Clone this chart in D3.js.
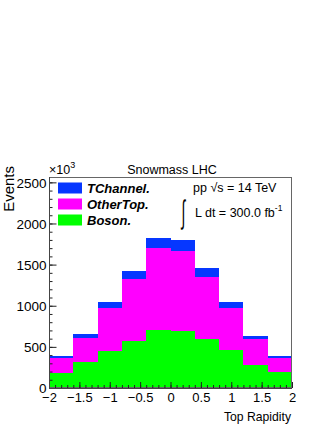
<!DOCTYPE html>
<html><head><meta charset="utf-8">
<script src="https://cdn.jsdelivr.net/npm/d3@7"></script>
<style>
html,body{margin:0;padding:0;background:#fff;}
svg text{font-family:"Liberation Sans",Arial,Helvetica,sans-serif;fill:#000;}
</style>
</head><body>
<svg id="c" width="332" height="430"></svg>
<script>
// ---- data ----
const binEdges = [-2, -1.6, -1.2, -0.8, -0.4, 0, 0.4, 0.8, 1.2, 1.6, 2];
const boson    = [187, 313, 447, 573, 711, 694, 590, 459, 285, 191];
const otherTop = [175, 296, 520, 755, 987, 975, 762, 516, 312, 171];
const tChannel = [24, 45, 73, 97, 125, 130, 102, 69, 41, 24];
const seriesNames = ["Boson.", "OtherTop.", "TChannel."];
const seriesColors = ["#00ff00", "#ff00ff", "#0637ff"];
const xTicks = [-2, -1.5, -1, -0.5, 0, 0.5, 1, 1.5, 2];
const yTicks = [0, 500, 1000, 1500, 2000, 2500];
const yMax = 2565;

const svg = d3.select("#c");
svg.append("rect").attr("width",332).attr("height",430).attr("fill","#fff");

const L = 49, R = 292, T = 177, B = 388;
const x = d3.scaleLinear().domain([-2, 2]).range([L, R]);
const y = d3.scaleLinear().domain([0, yMax]).range([B, T]);

// table for stacking
const table = binEdges.slice(0, -1).map((lo, i) => ({
  lo, hi: binEdges[i + 1],
  "Boson.": boson[i], "OtherTop.": otherTop[i], "TChannel.": tChannel[i]
}));
const stack = d3.stack().keys(seriesNames)(table);

const g = svg.append("g");
stack.forEach((layer, si) => {
  g.selectAll(null).data(layer).enter().append("rect")
    .attr("x", d => x(d.data.lo))
    .attr("width", d => x(d.data.hi) - x(d.data.lo))
    .attr("y", d => y(d[1]))
    .attr("height", d => y(d[0]) - y(d[1]))
    .attr("fill", seriesColors[si])
    .attr("shape-rendering", "crispEdges");
});

// frame
svg.append("rect").attr("x", L + 0.5).attr("y", T + 0.5)
  .attr("width", R - L - 1).attr("height", B - T - 1)
  .attr("fill", "none").attr("stroke", "#666").attr("stroke-width", 1);

// y axis: minor and major ticks
const yMinor = d3.range(0, 2501, 100);
const yAxisMinor = svg.append("g").attr("transform", `translate(${L},0)`)
  .call(d3.axisLeft(y).tickValues(yMinor).tickSize(-3.5).tickSizeOuter(0).tickFormat(""));
yAxisMinor.select(".domain").remove();
const yAxis = svg.append("g").attr("transform", `translate(${L},0)`)
  .call(d3.axisLeft(y).tickValues(yTicks).tickSize(-7.5).tickSizeOuter(0).tickPadding(2.5).tickFormat(d3.format("d")));
yAxis.select(".domain").remove();
yAxis.selectAll("text").style("font-size", "13.5px").attr("dy", "0.36em");

// x axis
const xMinor = d3.range(-20, 21, 1).map(v => v / 10);
const xAxisMinor = svg.append("g").attr("transform", `translate(0,${B})`)
  .call(d3.axisBottom(x).tickValues(xMinor).tickSize(-3).tickSizeOuter(0).tickFormat(""));
xAxisMinor.select(".domain").remove();
const xAxis = svg.append("g").attr("transform", `translate(0,${B})`)
  .call(d3.axisBottom(x).tickValues(xTicks).tickSize(-6).tickSizeOuter(0).tickPadding(4.6).tickFormat(d => d3.format("")(d)));
xAxis.select(".domain").remove();
xAxis.selectAll("text").style("font-size", "13px");
svg.selectAll(".tick line").attr("stroke", "#222");

// axis line emphasis
svg.append("line").attr("x1", L + 0.5).attr("x2", L + 0.5).attr("y1", T).attr("y2", B + 0.5).attr("stroke", "#444");
svg.append("line").attr("x1", L).attr("x2", R).attr("y1", B + 0.5).attr("y2", B + 0.5).attr("stroke", "#444");

// texts
svg.append("text").attr("x", 172).attr("y", 173.5).attr("text-anchor", "middle")
  .style("font-size", "12.5px").text("Snowmass LHC");
const mult = svg.append("text").attr("x", 49).attr("y", 174).style("font-size", "12.5px");
mult.append("tspan").text("×10");
mult.append("tspan").attr("dy", -6).style("font-size", "9px").text("3");

svg.append("text").attr("transform", "translate(13.5,166) rotate(-90)")
  .attr("text-anchor", "end").style("font-size", "15px").text("Events");
svg.append("text").attr("x", 291).attr("y", 421).attr("text-anchor", "end")
  .style("font-size", "12.2px").text("Top Rapidity");

// legend (top to bottom: TChannel, OtherTop, Boson)
const legendOrder = [2, 1, 0];
legendOrder.forEach((si, k) => {
  const cy = 188 + k * 16;
  svg.append("rect").attr("x", 58).attr("y", cy - 5.5).attr("width", 24).attr("height", 11)
    .attr("fill", seriesColors[si]);
  svg.append("text").attr("x", 87).attr("y", cy + 4.7)
    .style("font-size", "13px").style("font-weight", "bold").style("font-style", "italic")
    .text(seriesNames[si]);
});

// annotation
svg.append("text").attr("x", 193).attr("y", 192).style("font-size", "12.5px").text("pp \u221As = 14 TeV");
svg.append("text").attr("transform", "translate(181.5,222.5) scale(0.6,1.4)")
  .style("font-size", "23px").text("\u222B");
const lum = svg.append("text").attr("x", 195).attr("y", 216.5).style("font-size", "12.5px");
lum.append("tspan").text("L dt = 300.0 fb");
lum.append("tspan").attr("dy", -6).style("font-size", "8.5px").text("-1");
</script>
</body></html>
